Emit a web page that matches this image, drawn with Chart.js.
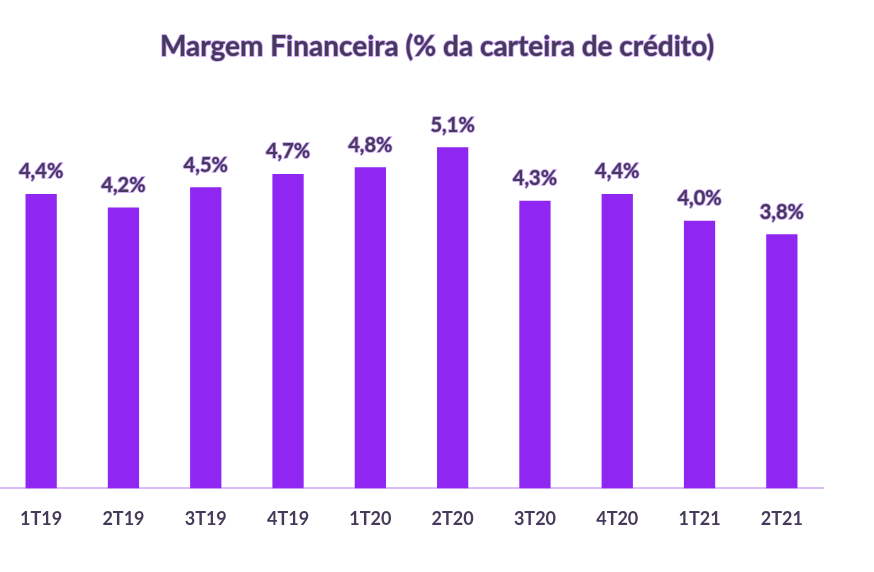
<!DOCTYPE html>
<html lang="pt-br">
<head>
<meta charset="UTF-8">
<title>Margem Financeira</title>
<script src="https://cdn.jsdelivr.net/npm/chart.js"></script>
<style>
    body { margin: 0; background: #fff; }
    #grafico { display: block; }
</style>
</head>
<body>
<canvas id="grafico" width="874" height="572"></canvas>

<script>
    // dados do grafico
    var trimestres = ['1T19', '2T19', '3T19', '4T19', '1T20', '2T20', '3T20', '4T20', '1T21', '2T21'];
    var margem = [4.4, 4.2, 4.5, 4.7, 4.8, 5.1, 4.3, 4.4, 4.0, 3.8];
    var titulo = 'Margem Financeira (% da carteira de crédito)';

    var corBarra = '#9026f2';
    var corTexto = '#463a5a';
    var corContorno = 'rgba(150, 70, 235, 0.55)';

    function textoContornado(ctx, txt, x, y) {
        ctx.lineWidth = 1.6;
        ctx.strokeStyle = corContorno;
        ctx.strokeText(txt, x, y);
        ctx.fillStyle = corTexto;
        ctx.fillText(txt, x, y);
    }

    // titulo + rotulos em cima das barras
    var rotulos = {
        id: 'rotulos',
        afterDatasetsDraw: function(chart) {
            var ctx = chart.ctx;
            ctx.save();
            ctx.textAlign = 'center';
            ctx.textBaseline = 'middle';
            ctx.font = 'bold 28px Lato';
            textoContornado(ctx, titulo, 437, 47);

            ctx.font = 'bold 20px Lato';
            ctx.textBaseline = 'bottom';
            var meta = chart.getDatasetMeta(0);
            meta.data.forEach(function(barra, i) {
                var txt = margem[i].toFixed(1).replace('.', ',') + '%';
                textoContornado(ctx, txt, barra.x, barra.y - 12);
            });
            ctx.restore();
        }
    };

    var ctx = document.getElementById('grafico').getContext('2d');

    new Chart(ctx, {
        type: 'bar',
        data: {
            labels: trimestres,
            datasets: [{
                data: margem,
                backgroundColor: corBarra,
                categoryPercentage: 1,
                barPercentage: 0.38
            }]
        },
        options: {
            responsive: false,
            animation: false,
            layout: { padding: { top: 87, right: 51, bottom: 22, left: 0 } },
            plugins: {
                legend: { display: false },
                title: { display: false },
                tooltip: { enabled: false }
            },
            scales: {
                y: { display: false, min: 0, max: 6 },
                x: {
                    grid: { display: false, drawTicks: false },
                    border: { display: true, color: '#dcbcf8', width: 2 },
                    ticks: {
                        padding: 20,
                        color: corTexto,
                        font: { family: 'Lato', size: 18, weight: 'bold' }
                    }
                }
            }
        },
        plugins: [rotulos]
    });
</script>
</body>
</html>
